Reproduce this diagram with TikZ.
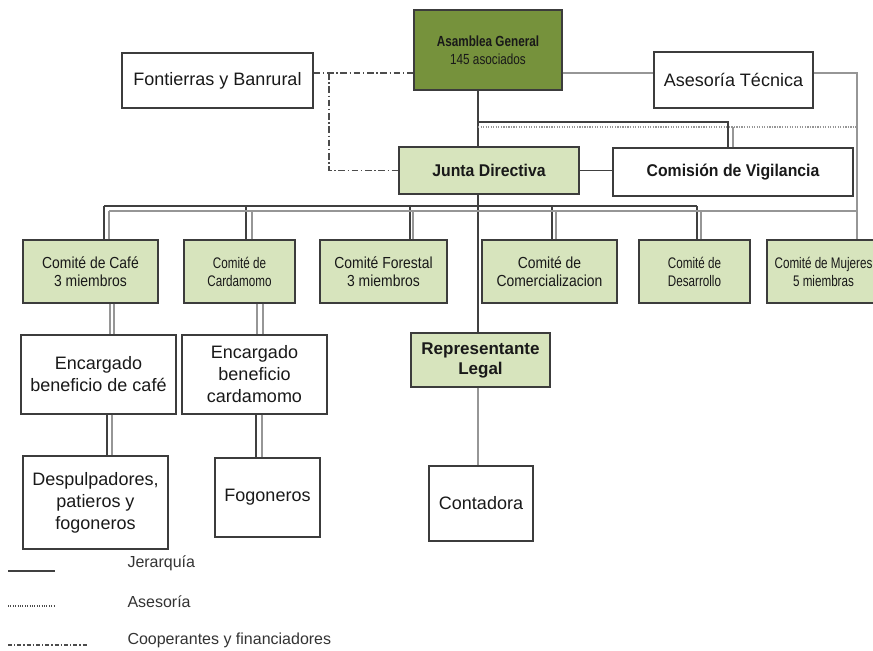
\documentclass[tikz,border=0pt]{standalone}
\usepackage{fontspec}
\setmainfont{Liberation Sans}
\newfontfamily\narrowA[FakeStretch=0.87]{Liberation Sans}
\newfontfamily\narrowB[FakeStretch=0.76]{Liberation Sans}
\newfontfamily\narrowC[FakeStretch=0.80]{Liberation Sans}
\newfontfamily\narrowD[FakeStretch=0.93]{Liberation Sans}
\definecolor{darkgreen}{RGB}{118,146,60}
\definecolor{lightgreen}{RGB}{215,228,189}
\definecolor{boxline}{RGB}{60,60,60}
\definecolor{advgray}{RGB}{150,150,150}

\tikzset{every picture/.style={line width=0.75pt}}
\tikzset{
  box/.style={draw=boxline, line width=1pt, inner sep=0pt, align=center, text=black!90,
    font=\fontsize{13.5}{16.5}\selectfont},
  comite/.style={box, fill=lightgreen, minimum height=47.25pt,
    font=\narrowA\fontsize{12}{13.5}\selectfont},
  comiteN/.style={comite, font=\narrowB\fontsize{11.5}{13.5}\selectfont},
  jer/.style={draw=black!75, line width=1.2pt},
  adv/.style={draw=advgray, line width=0.9pt},
  coop/.style={draw=black!70, line width=0.9pt, dash pattern={on 5pt off 2pt on 1pt off 2pt}},
  legend/.style={anchor=west, inner sep=0pt, text=black!80, font=\fontsize{12}{14}\selectfont}
}

\begin{document}
\begin{tikzpicture}[x=0.75pt,y=0.75pt,yscale=-1,xscale=1]
    \useasboundingbox (0,0) rectangle (873,650);
    \clip (0,0) rectangle (873,650);
    % Top level
    \node[box, fill=darkgreen, minimum width=111pt, minimum height=60pt,
      font=\narrowC\fontsize{11}{13.5}\selectfont] (asamblea) at (488,50) {\textbf{Asamblea General}\\145 asociados};
    \node[box, minimum width=143.25pt, minimum height=41.25pt] (fontierras) at (217.5,80.5) {Fontierras y Banrural};
    \node[box, minimum width=119.25pt, minimum height=42pt] (asesoria) at (733.5,80) {Asesoría Técnica};
    % Second level
    \node[box, fill=lightgreen, minimum width=135pt, minimum height=35.25pt,
      font=\narrowD\bfseries\fontsize{12.75}{15}\selectfont] (junta) at (489,170.5) {Junta Directiva};
    \node[box, minimum width=180pt, minimum height=36pt,
      font=\narrowD\bfseries\fontsize{12.75}{15}\selectfont] (comision) at (733,172) {Comisión de Vigilancia};
    % Comites
    \node[comite, minimum width=101.25pt] (cafe) at (90.5,271.5) {Comité de Café\\3 miembros};
    \node[comiteN, minimum width=83.25pt] (cardamomo) at (239.5,271.5) {Comité de\\Cardamomo};
    \node[comite, minimum width=95.25pt] (forestal) at (383.5,271.5) {Comité Forestal\\3 miembros};
    \node[comite, minimum width=101.25pt] (comercial) at (549.5,271.5) {Comité de\\Comercializacion};
    \node[comiteN, minimum width=83.25pt] (desarrollo) at (694.5,271.5) {Comité de\\Desarrollo};
    \node[comiteN, minimum width=84.75pt] (mujeres) at (823.5,271.5) {Comité de Mujeres\\5 miembras};
    % Lower levels
    \node[box, minimum width=116.25pt, minimum height=59.25pt] (encCafe) at (98.5,374.5) {Encargado\\beneficio de café};
    \node[box, minimum width=108.75pt, minimum height=59.25pt] (encCard) at (254.5,374.5) {Encargado\\beneficio\\cardamomo};
    \node[box, minimum width=108.75pt, minimum height=69.75pt] (despulp) at (95.5,502.5) {Despulpadores,\\patieros y\\fogoneros};
    \node[box, minimum width=78.75pt, minimum height=59.25pt] (fogon) at (267.5,497.5) {Fogoneros};
    \node[box, fill=lightgreen, minimum width=104.25pt, minimum height=40.5pt,
      font=\bfseries\fontsize{12.75}{15}\selectfont] (repLegal) at (480.5,360) {Representante\\Legal};
    \node[box, minimum width=78pt, minimum height=56.25pt] (contadora) at (481,503.5) {Contadora};

    % Bus points
    \coordinate (topbar) at (478,122);
    \coordinate (topadv) at (478,127);
    \coordinate (combar) at (104,206);
    \coordinate (comadv) at (109,211);
    \coordinate (rightadv) at (857,73);
    \coordinate (coop) at (329,73);

    % Jerarquia
    \draw[jer] (asamblea.south -| topbar) -- (junta.north -| topbar);
    \draw[jer] (junta.south -| topbar) -- (repLegal.north -| topbar);
    \draw[jer] (topbar) -| ([xshift=-3.75pt]comision.north);
    \draw[jer] (junta.east) -- (junta.east -| comision.west);
    \draw[jer] (combar) -- ([xshift=1.875pt]desarrollo.north |- combar);
    \foreach \n/\dx in {cafe/10.125,cardamomo/4.875,forestal/19.875,comercial/1.875,desarrollo/1.875}
      \draw[jer] ([xshift=\dx pt]\n.north) -- ([xshift=\dx pt]\n.north |- combar);
    \draw[jer] ([xshift=6.375pt]encCafe.south) -- ([xshift=6.375pt]encCafe.south |- despulp.north);
    \draw[jer] ([xshift=1.125pt]encCard.south) -- ([xshift=1.125pt]encCard.south |- fogon.north);

    % Asesoria
    \draw[adv] (asamblea.east |- rightadv) -- (asesoria.west |- rightadv);
    \draw[adv] (asesoria.east |- rightadv) -- (rightadv) -- (rightadv |- mujeres.north);
    \draw[adv, densely dotted] (topadv) -- (topadv -| rightadv);
    \draw[adv] (comision.north) -- (comision.north |- topadv);
    \draw[adv] (comadv) -- (comadv -| rightadv);
    \foreach \n/\dx in {cafe/13.875,cardamomo/9.375,forestal/22.125,comercial/4.875,desarrollo/4.875}
      \draw[adv] ([xshift=\dx pt]\n.north) -- ([xshift=\dx pt]\n.north |- comadv);
    \draw[adv] ([xshift=14.625pt]cafe.south) -- ([xshift=14.625pt]cafe.south |- encCafe.north);
    \draw[adv] ([xshift=17.625pt]cafe.south) -- ([xshift=17.625pt]cafe.south |- encCafe.north);
    \draw[adv] ([xshift=13.125pt]cardamomo.south) -- ([xshift=13.125pt]cardamomo.south |- encCard.north);
    \draw[adv] ([xshift=17.625pt]cardamomo.south) -- ([xshift=17.625pt]cardamomo.south |- encCard.north);
    \draw[adv] ([xshift=10.125pt]encCafe.south) -- ([xshift=10.125pt]encCafe.south |- despulp.north);
    \draw[adv] ([xshift=5.625pt]encCard.south) -- ([xshift=5.625pt]encCard.south |- fogon.north);
    \draw[adv] (repLegal.south -| topbar) -- (contadora.north -| topbar);

    % Cooperantes
    \draw[coop] (fontierras.east |- coop) -- (asamblea.west |- coop);
    \draw[coop] (coop) |- (junta.west);

    % Legend
    \coordinate (legJ) at (8,571);
    \coordinate (legA) at (8,606);
    \coordinate (legC) at (8,645);
    \draw[jer, line width=0.9pt] (legJ) -- ++(47,0);
    \draw[black!70, line width=0.8pt, densely dotted] (legA) -- ++(47,0);
    \draw[coop, line width=0.8pt, dash pattern={on 3pt off 1.5pt on 1pt off 1.5pt}] (legC) -- ++(80,0);
    \node[legend] (txtJ) at (127,563) {Jerarquía};
    \node[legend] (txtA) at (127,602) {Asesoría};
    \node[legend] (txtC) at (127,640) {Cooperantes y financiadores};
\end{tikzpicture}
\end{document}
